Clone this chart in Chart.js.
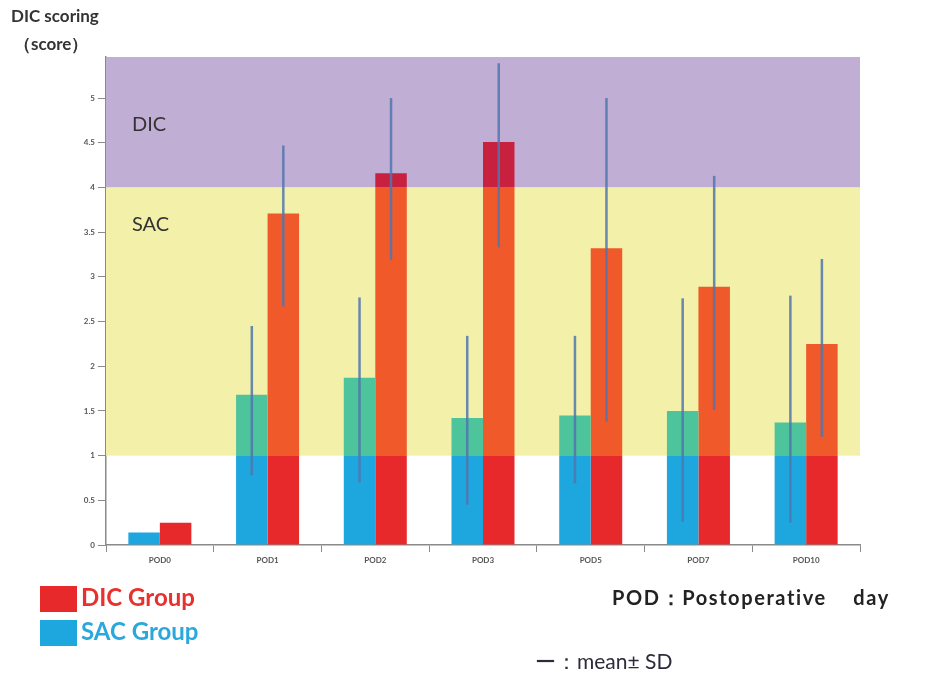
<!DOCTYPE html>
<html>
<head>
<meta charset="utf-8">
<script src="https://cdn.jsdelivr.net/npm/chart.js@4.4.1/dist/chart.umd.min.js"></script>
<style>
  html, body { margin: 0; padding: 0; background: #fff; }
  #wrap { position: relative; width: 935px; height: 673px; overflow: hidden; }
  #chart { position: absolute; left: 0; top: 0; }
  .txt { position: absolute; white-space: nowrap; font-family: Lato, "Open Sans", sans-serif; }
  .ytitle { font-weight: bold; font-size: 17px; color: #333; }
  .legend-box { position: absolute; width: 37px; height: 26px; }
  .legend-label { font-weight: bold; font-size: 24px; }
</style>
</head>
<body>
<div id="wrap">
  <canvas id="chart" width="935" height="673"></canvas>
  <div class="txt ytitle" style="left:11px; top:5px;">DIC scoring</div>
  <div class="txt ytitle" style="left:14px; top:33px;">（score）</div>

  <div class="legend-box" style="left:40px; top:586px; background:#e8292b;"></div>
  <div class="txt legend-label" style="left:81px; top:582px; color:#e8312f;">DIC Group</div>
  <div class="legend-box" style="left:40px; top:620px; background:#1ea6df;"></div>
  <div class="txt legend-label" style="left:81px; top:616px; color:#2aa8dc;">SAC Group</div>

  <div class="txt" style="left:612px; top:585px; font-weight:bold; font-size:20px; color:#222; word-spacing:20px; letter-spacing:1.6px;">POD：Postoperative day</div>
  <div class="txt" style="left:535px; top:648px; font-size:21px; color:#2b2b3b;">ー：mean± SD</div>
</div>

<script>
// ─── Data ─────────────────────────────────────────────────────────────────────

const PODS     = ["POD0", "POD1", "POD2", "POD3", "POD5", "POD7", "POD10"];
const Y_TICKS  = [0, 0.5, 1, 1.5, 2, 2.5, 3, 3.5, 4, 4.5, 5];

const SAC_MEAN = [0.14, 1.68, 1.87, 1.42, 1.45, 1.50, 1.37];
const SAC_LOW  = [null, 0.78, 0.70, 0.45, 0.69, 0.26, 0.25];
const SAC_HIGH = [null, 2.45, 2.77, 2.34, 2.34, 2.76, 2.79];

const DIC_MEAN = [0.25, 3.71, 4.16, 4.51, 3.32, 2.89, 2.25];
const DIC_LOW  = [null, 2.67, 3.19, 3.33, 1.38, 1.51, 1.21];
const DIC_HIGH = [null, 4.47, 5.00, 5.39, 5.00, 4.13, 3.20];

// Score zones shaded behind the bars
const SAC_ZONE = [1, 4];
const DIC_ZONE = 4;

const COLORS = {
  purple: "#c0aed4",
  yellow: "#f2f0a9",
  axis:   "#8a8a8a",
  tick:   "#555",
  err:    "rgba(80, 118, 175, 0.85)",
  // bar colour below 1 / inside SAC zone / inside DIC zone
  sac: ["#1ea6df", "#4ec49c", "#4ec49c"],
  dic: ["#e8292b", "#f05a2a", "#c8213f"],
};

// ─── Helpers ──────────────────────────────────────────────────────────────────

function zoneGradient(ctx, colors) {
  const chart = ctx.chart;
  const area = chart.chartArea;
  if (!area) return colors[0];
  const y = chart.scales.y;
  const p1 = y.getPixelForValue(SAC_ZONE[0]);
  const p4 = y.getPixelForValue(DIC_ZONE);
  const h = area.bottom - area.top;
  const f1 = (area.bottom - p1) / h;
  const f4 = (area.bottom - p4) / h;
  const g = chart.ctx.createLinearGradient(0, area.bottom, 0, area.top);
  g.addColorStop(0, colors[0]);
  g.addColorStop(f1, colors[0]);
  g.addColorStop(f1, colors[1]);
  g.addColorStop(f4, colors[1]);
  g.addColorStop(f4, colors[2]);
  g.addColorStop(1, colors[2]);
  return g;
}

// ─── Plugins ──────────────────────────────────────────────────────────────────

const zonesPlugin = {
  id: "zones",
  beforeDatasetsDraw(chart) {
    const { ctx, chartArea: a, scales: { y } } = chart;
    const p1 = y.getPixelForValue(SAC_ZONE[0]);
    const p4 = y.getPixelForValue(DIC_ZONE);
    ctx.save();
    ctx.fillStyle = COLORS.purple;
    ctx.fillRect(a.left, a.top, a.right - a.left, p4 - a.top);
    ctx.fillStyle = COLORS.yellow;
    ctx.fillRect(a.left, p4, a.right - a.left, p1 - p4);

    ctx.fillStyle = "#333";
    ctx.font = "20px Lato, 'Open Sans', sans-serif";
    ctx.textBaseline = "middle";
    ctx.fillText("DIC", a.left + 26, y.getPixelForValue(4.7));
    ctx.fillText("SAC", a.left + 26, y.getPixelForValue(3.58));
    ctx.restore();
  },
};

const errorBarPlugin = {
  id: "errorBars",
  afterDatasetsDraw(chart) {
    const { ctx, scales: { y } } = chart;
    const ranges = [[SAC_LOW, SAC_HIGH], [DIC_LOW, DIC_HIGH]];
    ctx.save();
    ctx.strokeStyle = COLORS.err;
    ctx.lineWidth = 2.5;
    ranges.forEach(([lo, hi], di) => {
      chart.getDatasetMeta(di).data.forEach((bar, i) => {
        if (lo[i] == null || hi[i] == null) return;
        ctx.beginPath();
        ctx.moveTo(bar.x, y.getPixelForValue(lo[i]));
        ctx.lineTo(bar.x, y.getPixelForValue(hi[i]));
        ctx.stroke();
      });
    });
    ctx.restore();
  },
};

// ─── Chart ────────────────────────────────────────────────────────────────────

const tickFont = { family: "Lato, 'Open Sans', sans-serif", size: 8, weight: "bold" };

new Chart(document.getElementById("chart").getContext("2d"), {
  type: "bar",
  data: {
    labels: PODS,
    datasets: [
      {
        label: "SAC Group",
        data: SAC_MEAN,
        backgroundColor: (c) => zoneGradient(c, COLORS.sac),
        borderWidth: 0,
      },
      {
        label: "DIC Group",
        data: DIC_MEAN,
        backgroundColor: (c) => zoneGradient(c, COLORS.dic),
        borderWidth: 0,
      },
    ],
  },
  options: {
    responsive: false,
    animation: false,
    categoryPercentage: 0.585,
    barPercentage: 1,
    layout: { padding: { top: 57, right: 75, bottom: 100, left: 0 } },
    plugins: {
      legend: { display: false },
      tooltip: { enabled: false },
    },
    scales: {
      x: {
        afterFit: (s) => { s.height = 28; },
        ticks: { color: COLORS.tick, font: tickFont, padding: 4, maxRotation: 0 },
        grid: { drawOnChartArea: false, tickLength: 7, color: COLORS.axis, offset: true },
        border: { color: COLORS.axis, width: 1.5 },
      },
      y: {
        min: 0,
        max: 5.46,
        afterFit: (s) => { s.width = 106; },
        afterBuildTicks: (s) => { s.ticks = Y_TICKS.map((v) => ({ value: v })); },
        ticks: {
          color: COLORS.tick,
          font: tickFont,
          padding: 3,
          callback: (v) => String(v),
        },
        grid: { drawOnChartArea: false, tickLength: 8, color: COLORS.axis },
        border: { color: COLORS.axis, width: 1.5 },
      },
    },
  },
  plugins: [zonesPlugin, errorBarPlugin],
});
</script>
</body>
</html>
